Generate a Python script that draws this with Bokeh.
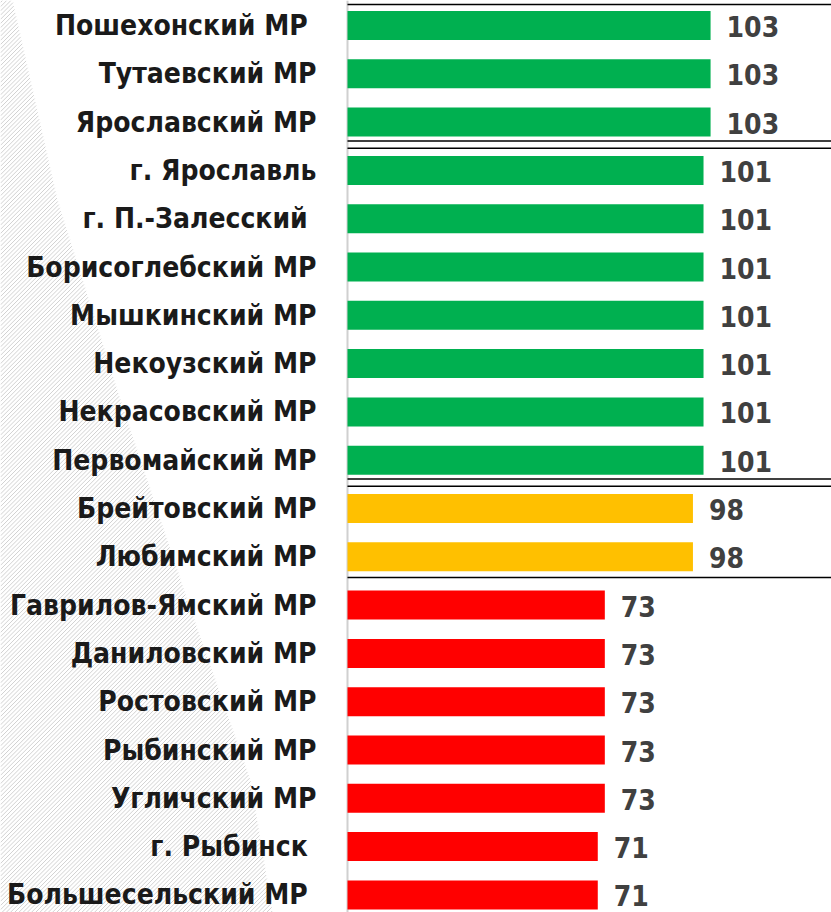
from bokeh.plotting import figure
from bokeh.models import Range1d, ColumnDataSource, Span
from bokeh.core.properties import value
from bokeh.embed import file_html
from bokeh.resources import INLINE

# ---- data ----
districts = [
    "Пошехонский МР\u00a0", "Тутаевский МР", "Ярославский МР",
    "г. Ярославль", "г. П.-Залесский\u00a0", "Борисоглебский МР",
    "Мышкинский МР", "Некоузский МР", "Некрасовский МР", "Первомайский МР",
    "Брейтовский МР", "Любимский МР",
    "Гаврилов-Ямский МР", "Даниловский МР", "Ростовский МР", "Рыбинский МР",
    "Угличский МР", "г. Рыбинск\u00a0", "Большесельский МР\u00a0",
]
scores = [103, 103, 103, 101, 101, 101, 101, 101, 101, 101,
          98, 98, 73, 73, 73, 73, 73, 71, 71]
GREEN, YELLOW, RED = "#00B050", "#FFC000", "#FF0000"
bar_colors = [GREEN] * 10 + [YELLOW] * 2 + [RED] * 7
double_separators = [3, 10]   # row index where a double rule begins the group
single_separators = [12]

# ---- layout constants (pixels) ----
W, H = 831, 912
ZERO_PX = 347.0
PX_PER_UNIT = 3.525
ROW0_PX = 25.0
ROW_PX = 48.3

x_start = -ZERO_PX / PX_PER_UNIT
x_end = (W - ZERO_PX) / PX_PER_UNIT
y_top = -ROW0_PX / ROW_PX
y_bottom = (H - ROW0_PX) / ROW_PX

def px_x(px):
    return (px - ZERO_PX) / PX_PER_UNIT

def px_y(py):
    return (py - ROW0_PX) / ROW_PX

p = figure(width=W, height=H, output_backend="svg", toolbar_location=None,
           x_range=Range1d(x_start, x_end), y_range=Range1d(y_bottom, y_top),
           min_border=0, outline_line_color=None)
p.xaxis.visible = False
p.yaxis.visible = False
p.xgrid.visible = False
p.ygrid.visible = False
p.background_fill_color = "white"
p.border_fill_color = "white"

# ---- hatched background wedge on the left (decoration, drawn as stripes) ----
edge_y = [0, 200, 400, 600, 780, 912]
edge_x = [12, 57, 120, 187, 250, 272]

def edge_at(y):
    if y <= edge_y[0]:
        return edge_x[0]
    for k in range(1, len(edge_y)):
        if y <= edge_y[k]:
            t = (y - edge_y[k - 1]) / (edge_y[k] - edge_y[k - 1])
            return edge_x[k - 1] + t * (edge_x[k] - edge_x[k - 1])
    return edge_x[-1]

hx0, hx1, hy0, hy1 = [], [], [], []
c = 2.0
while c < H + edge_x[-1]:
    xa = max(0.0, c - H)
    ya = c - xa
    if xa <= edge_at(ya):
        lo, hi = xa, min(c, 400.0)
        if hi <= edge_at(c - hi):
            xb = hi
        else:
            for _ in range(40):
                mid = (lo + hi) / 2
                if mid <= edge_at(c - mid):
                    lo = mid
                else:
                    hi = mid
            xb = lo
        hx0.append(px_x(xa)); hy0.append(px_y(ya))
        hx1.append(px_x(xb)); hy1.append(px_y(c - xb))
    c += 4.2
p.segment(x0=hx0, y0=hy0, x1=hx1, y1=hy1, line_color="#d2d2d2", line_width=1)

rows = list(range(len(scores)))
src = ColumnDataSource(dict(
    y=rows, score=scores, color=bar_colors, district=districts,
    label=[str(s) for s in scores],
))

axis_line = Span(location=0, dimension="height", line_color="#d0d0d0",
                 line_width=2, level="underlay")
p.add_layout(axis_line)

p.hbar(y="y", left=0, right="score", height=0.6, fill_color="color",
       line_color=None, source=src)

# separator rules
rule_y = [-0.5 + 0.067]
for b in double_separators:
    rule_y += [b - 0.5 - 0.11, b - 0.5 + 0.04]
for b in single_separators:
    rule_y += [b - 0.5 - 0.07]
p.segment(x0=[0] * len(rule_y), x1=[x_end] * len(rule_y), y0=rule_y, y1=rule_y,
          line_color="black", line_width=1.5)

FONT = value("DejaVu Sans Condensed")
p.text(x=0, y="y", text="district", source=src, x_offset=-31,
       text_align="right", text_baseline="middle", text_font=FONT,
       text_font_style="bold", text_font_size="28px", text_color="#1a1a1a")
p.text(x="score", y="y", text="label", source=src, x_offset=16, y_offset=1,
       text_align="left", text_baseline="middle", text_font=FONT,
       text_font_style="bold", text_font_size="28px", text_color="#404040")

open("out.html", "w").write(file_html(p, INLINE))
